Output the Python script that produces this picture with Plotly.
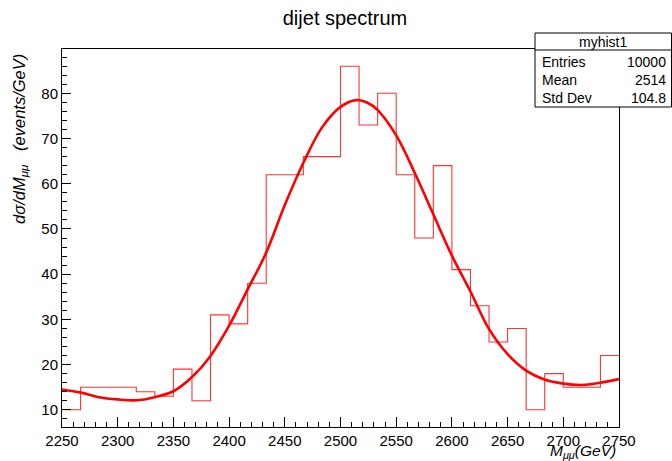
import plotly.graph_objects as go

# ---- data ----
x_min, x_max, n_bins = 2250.0, 2750.0, 30
counts = [10, 15, 15, 15, 14, 13, 19, 12, 31, 29, 38, 62, 62, 66, 66,
          86, 73, 80, 62, 48, 64, 41, 33, 25, 28, 10, 18, 15, 15, 22]
fit_x = [2250, 2267, 2283, 2300, 2317, 2333, 2350, 2367, 2383, 2400, 2417, 2433,
         2450, 2467, 2483, 2500, 2514, 2525, 2533, 2550, 2567, 2583, 2600, 2617,
         2633, 2650, 2667, 2683, 2700, 2717, 2733, 2750]
fit_y = [14.5, 13.8, 12.8, 12.3, 12.1, 12.8, 14.1, 17.3, 21.8, 28.6, 36.8, 44.6,
         55.3, 64.8, 72.3, 77.0, 78.5, 77.8, 76.4, 70.7, 62.2, 53.4, 44.1, 36.0,
         28.0, 22.3, 18.6, 16.7, 15.8, 15.5, 16.0, 16.8]
title = "dijet spectrum"
stats_name = "myhist1"
stats_labels = ["Entries", "Mean", "Std Dev"]
stats_values = ["10000", "2514", "104.8"]

bw = (x_max - x_min) / n_bins
edges = [x_min + i * bw for i in range(n_bins + 1)]
step_y = counts + [counts[-1]]

FONT = "Liberation Sans, Arial, Helvetica, sans-serif"
RED = "rgb(255,0,0)"

fig = go.Figure()
fig.add_trace(go.Scatter(x=edges, y=step_y, mode="lines", line_shape="hv",
                         line=dict(color="rgba(255,0,0,0.8)", width=1.1),
                         hoverinfo="skip", showlegend=False))
fig.add_trace(go.Scatter(x=fit_x, y=fit_y, mode="lines", line_shape="spline",
                         line=dict(color=RED, width=2.6, smoothing=1.0),
                         showlegend=False))

L, R, T, B = 62, 53, 49, 34
fig.update_layout(
    width=672, height=461,
    margin=dict(l=L, r=R, t=T, b=B),
    paper_bgcolor="white", plot_bgcolor="white",
    font=dict(family=FONT, size=15, color="black"),
    title=dict(text=title, x=345 / 672, xanchor="center", y=1 - 18 / 461,
               yanchor="middle", font=dict(size=20, family=FONT)),
)
fig.update_xaxes(range=[x_min, x_max], showgrid=False, zeroline=False,
                 showline=True, linecolor="black", linewidth=1, mirror=True,
                 ticks="inside", ticklen=10, tickcolor="black", dtick=50,
                 tick0=2250, tickfont=dict(size=15),
                 minor=dict(ticks="inside", ticklen=5, dtick=10, tickcolor="black"))
fig.update_yaxes(range=[6.2, 89.8], showgrid=False, zeroline=False,
                 showline=True, linecolor="black", linewidth=1, mirror=True,
                 ticks="inside", ticklen=9, tickcolor="black", dtick=10,
                 tick0=0, tickfont=dict(size=15),
                 minor=dict(ticks="inside", ticklen=5, dtick=2, tickcolor="black"))

pw, ph = 672 - L - R, 461 - T - B
def px(x): return (x - L) / pw
def py(y): return (461 - B - y) / ph

# axis titles
fig.add_annotation(text="<i>dσ/dM<sub>μμ</sub>   (events/GeV)</i>",
                   xref="paper", yref="paper", x=px(20), y=py(52),
                   xanchor="center", yanchor="top", textangle=-90,
                   showarrow=False, font=dict(size=16.5))
fig.add_annotation(text="<i>M<sub>μμ</sub>(GeV)</i>",
                   xref="paper", yref="paper", x=px(618), y=py(451),
                   xanchor="right", yanchor="middle",
                   showarrow=False, font=dict(size=15.5))

# stats box
bx0, bx1, by0, by1, bh = 535, 671.5, 33, 107, 50
fig.add_shape(type="rect", xref="paper", yref="paper",
              x0=px(bx0), x1=px(bx1), y0=py(by1), y1=py(by0),
              line=dict(color="black", width=1), fillcolor="white", layer="above")
fig.add_shape(type="line", xref="paper", yref="paper",
              x0=px(bx0), x1=px(bx1), y0=py(bh), y1=py(bh),
              line=dict(color="black", width=1), layer="above")
fig.add_annotation(text=stats_name, xref="paper", yref="paper",
                   x=px((bx0 + bx1) / 2), y=py(41.5), xanchor="center",
                   yanchor="middle", showarrow=False, font=dict(size=14))
for i, (lab, val) in enumerate(zip(stats_labels, stats_values)):
    yy = py(62 + 18 * i)
    fig.add_annotation(text=lab, xref="paper", yref="paper", x=px(540), y=yy,
                       xanchor="left", yanchor="middle", showarrow=False,
                       font=dict(size=14))
    fig.add_annotation(text=val, xref="paper", yref="paper", x=px(668), y=yy,
                       xanchor="right", yanchor="middle", showarrow=False,
                       font=dict(size=14))

fig.write_html("out.html")
